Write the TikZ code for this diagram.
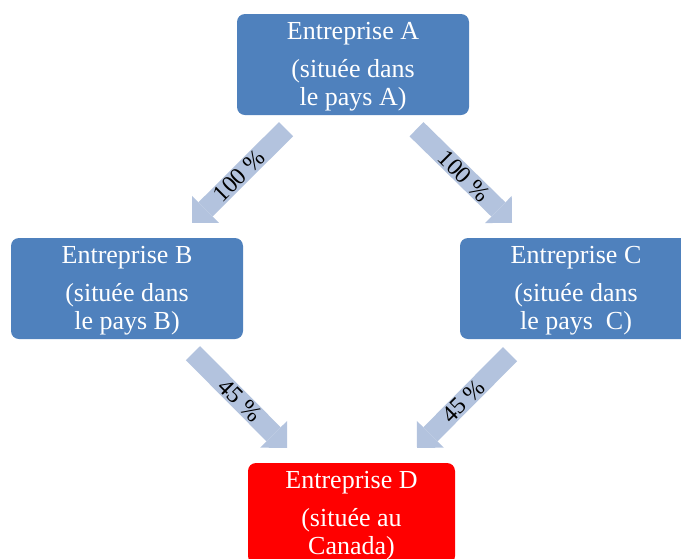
\documentclass[tikz,border=0pt]{standalone}
\usepackage{fontspec}
\setmainfont{Liberation Serif}
\usetikzlibrary{arrows.meta,calc}
\definecolor{boxblue}{HTML}{4F81BD}
\definecolor{arrowblue}{HTML}{B3C3DE}
\tikzset{
  entbox/.style={rounded corners=8pt, inner sep=0pt, minimum height=101pt},
  txt/.style={anchor=base, text=white, inner sep=0pt, font=\fontsize{26}{30}\selectfont},
  flow/.style={draw=arrowblue, line width=20pt, -{Triangle[length=19pt,width=38pt,line width=0pt]}},
  pct/.style={text=black, inner sep=0pt, font=\fontsize{24}{28}\selectfont}
}
\newcommand\boxlines[4]{%
  \node[txt] (#1-1) at ([yshift=-26pt]#1.north) {#2};
  \node[txt] (#1-2) at ([yshift=-37.7pt]#1-1.base) {#3};
  \node[txt] (#1-3) at ([yshift=-27.5pt]#1-2.base) {#4};
}
\begin{document}
\begin{tikzpicture}[x=1pt,y=-1pt]
\useasboundingbox (0,0) rectangle (681,558);
\begin{scope}
\clip (0,0) rectangle (681,558);
\node[entbox, fill=boxblue, minimum width=232pt] (A) at (353,64.5) {};
\node[entbox, fill=boxblue, minimum width=232pt] (B) at (127,288.5) {};
\node[entbox, fill=boxblue, minimum width=232pt] (C) at (576,288.5) {};
\node[entbox, fill=red, minimum width=207pt] (D) at (351.5,513.5) {};
\end{scope}
\boxlines{A}{Entreprise A}{(située dans}{le pays A)}
\boxlines{B}{Entreprise B}{(située dans}{le pays B)}
\boxlines{C}{Entreprise C}{(située dans}{le pays\ \ C)}
\boxlines{D}{Entreprise D}{(située au}{Canada)}
% arrow ends
\coordinate (ab0) at ($(A.south)+(-67,14)$);
\coordinate (ab1) at ($(B.north)+(65,-15)$);
\coordinate (ac0) at ($(A.south)+(63.5,14)$);
\coordinate (ac1) at ($(C.north)+(-64,-15)$);
\coordinate (bd0) at ($(B.south)+(66,14)$);
\coordinate (bd1) at ($(D.north)+(-64.5,-15)$);
\coordinate (cd0) at ($(C.south)+(-66,15)$);
\coordinate (cd1) at ($(D.north)+(65.5,-15)$);
\draw[flow] (ab0) -- (ab1) node[pct, midway, sloped=false, rotate=45] (lab) {100 \%};
\draw[flow] (ac0) -- (ac1) node[pct, midway, rotate=-45] (lac) {100 \%};
\draw[flow] (bd0) -- (bd1) node[pct, midway, rotate=-45] (lbd) {45 \%};
\draw[flow] (cd0) -- (cd1) node[pct, midway, rotate=45] (lcd) {45 \%};
\end{tikzpicture}
\end{document}
